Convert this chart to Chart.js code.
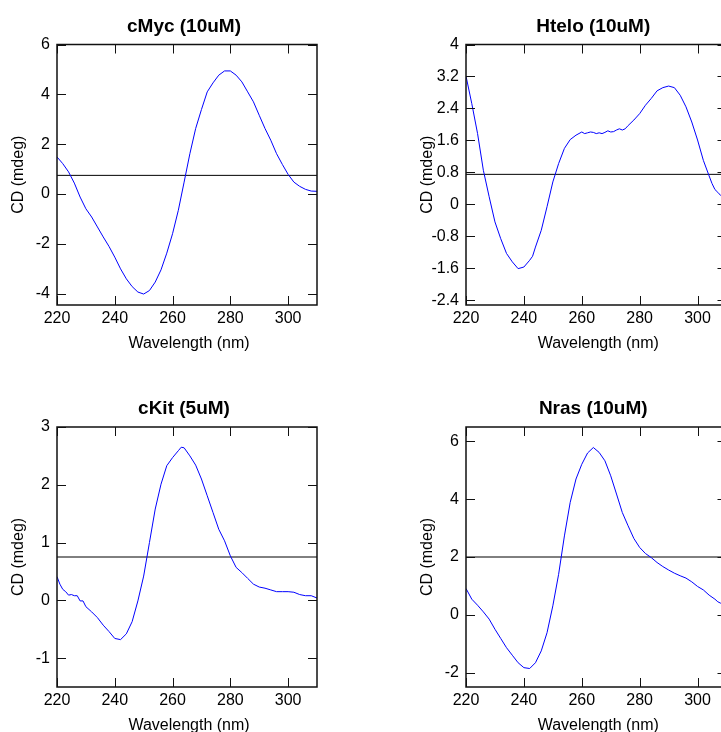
<!DOCTYPE html>
<html><head><meta charset="utf-8">
<script src="https://cdn.jsdelivr.net/npm/chart.js@4"></script>
<style>
html,body{margin:0;padding:0;background:#fff;overflow:hidden;width:721px;height:732px;}
#wrap{position:relative;width:721px;height:732px;overflow:hidden;background:#fff;}
canvas{position:absolute;}
</style></head><body><div id="wrap">
<canvas id="c1" width="360" height="366" style="left:0px;top:0px"></canvas>
<canvas id="c2" width="380" height="366" style="left:360px;top:0px"></canvas>
<canvas id="c3" width="360" height="366" style="left:0px;top:366px"></canvas>
<canvas id="c4" width="380" height="366" style="left:360px;top:366px"></canvas>
</div>
<script>
// ---- data ----
const xTicks = [220, 240, 260, 280, 300];
const xTitle = 'Wavelength (nm)';
const yTitle = 'CD (mdeg)';

const cMycTitle = 'cMyc (10uM)';
const cMycWl = [220,222,224,226,228,230,232,234,236,238,240,242,244,246,248,250,252,254,256,258,260,262,264,266,268,270,272,274,276,278,280,282,284,286,288,290,292,294,296,298,300,302,304,306,308,310];
const cMycCD = [1.49,1.22,0.89,0.44,-0.12,-0.59,-0.92,-1.32,-1.72,-2.10,-2.53,-3.00,-3.40,-3.71,-3.93,-4.01,-3.87,-3.53,-3.04,-2.37,-1.59,-0.65,0.48,1.62,2.63,3.39,4.10,4.46,4.77,4.94,4.94,4.77,4.50,4.10,3.70,3.16,2.63,2.16,1.62,1.19,0.79,0.48,0.31,0.19,0.12,0.11];
const cMycTicks = [-4, -2, 0, 2, 4, 6];
const cMycRange = [-4.45, 6];
const cMycRef = 0.75;

const htEloTitle = 'Htelo (10uM)';
const htEloWl = [220,222,224,226,228,230,232,234,236,238,240,242,243,244,246,248,250,252,254,256,258,260,261,262,263,264,265,266,267,268,269,270,271,272,273,274,275,276,278,280,282,284,286,288,290,292,294,296,298,300,302,304,305,306,307,308,310];
const htEloCD = [3.21,2.52,1.77,0.85,0.19,-0.44,-0.86,-1.23,-1.44,-1.61,-1.57,-1.40,-1.30,-1.07,-0.65,-0.06,0.56,1.02,1.40,1.62,1.73,1.81,1.77,1.79,1.81,1.80,1.77,1.79,1.77,1.80,1.84,1.81,1.82,1.86,1.89,1.86,1.89,1.97,2.11,2.27,2.48,2.65,2.84,2.92,2.96,2.92,2.73,2.44,2.06,1.61,1.10,0.71,0.52,0.37,0.30,0.22,0.10];
const htEloTicks = [-2.4, -1.6, -0.8, 0, 0.8, 1.6, 2.4, 3.2, 4];
const htEloRange = [-2.52, 4];
const htEloRef = 0.75;

const cKitTitle = 'cKit (5uM)';
const cKitWl = [220,221,222,223,224,225,226,227,228,229,230,232,234,236,238,240,242,244,246,248,250,252,254,256,258,260,262,263,264,266,268,270,272,274,276,278,280,282,284,286,288,290,292,294,296,298,300,302,304,306,308,310];
const cKitCD = [0.41,0.28,0.19,0.15,0.09,0.10,0.08,0.08,-0.01,-0.01,-0.11,-0.20,-0.30,-0.43,-0.54,-0.66,-0.68,-0.58,-0.37,-0.01,0.42,1.00,1.58,2.01,2.33,2.47,2.59,2.65,2.64,2.50,2.34,2.10,1.81,1.52,1.23,1.03,0.77,0.57,0.48,0.38,0.28,0.23,0.21,0.18,0.15,0.15,0.15,0.14,0.10,0.08,0.08,0.04];
const cKitTicks = [-1, 0, 1, 2, 3];
const cKitRange = [-1.5, 3];
const cKitRef = 0.75;

const nrasTitle = 'Nras (10uM)';
const nrasWl = [220,222,224,226,228,230,232,234,236,238,240,242,244,246,248,250,252,254,256,258,260,262,264,266,268,270,272,274,276,278,280,282,284,286,288,290,292,294,296,298,300,302,304,306,307,308,310];
const nrasCD = [0.91,0.54,0.33,0.10,-0.15,-0.50,-0.82,-1.14,-1.40,-1.66,-1.83,-1.86,-1.66,-1.25,-0.62,0.31,1.40,2.73,3.89,4.70,5.21,5.60,5.79,5.62,5.33,4.81,4.18,3.54,3.08,2.64,2.33,2.12,1.98,1.81,1.67,1.55,1.44,1.35,1.27,1.14,0.98,0.86,0.68,0.54,0.45,0.40,0.30];
const nrasTicks = [-2, 0, 2, 4, 6];
const nrasRange = [-2.5, 6.5];
const nrasRef = 2;

// ---- drawing ----
const FONT = '"Liberation Sans", Arial, Helvetica, sans-serif';

const framePlugin = {
  id: 'frame',
  afterDraw(chart, args, opts) {
    const { ctx, chartArea: a } = chart;
    const x = chart.scales.x, y = chart.scales.y;
    const L = 9;
    ctx.save();
    ctx.strokeStyle = '#111';
    ctx.lineWidth = 1;
    ctx.beginPath();
    x.ticks.forEach(t => {
      const px = Math.round(x.getPixelForValue(t.value)) + 0.5;
      ctx.moveTo(px, a.bottom); ctx.lineTo(px, a.bottom - L);
      ctx.moveTo(px, a.top); ctx.lineTo(px, a.top + L);
    });
    y.ticks.forEach(t => {
      const py = Math.round(y.getPixelForValue(t.value)) + 0.5;
      ctx.moveTo(a.left, py); ctx.lineTo(a.left + L, py);
      ctx.moveTo(a.right, py); ctx.lineTo(a.right - L, py);
    });
    ctx.stroke();
    ctx.lineWidth = 1.5;
    ctx.strokeRect(a.left, a.top, a.right - a.left, a.bottom - a.top);
    ctx.fillStyle = '#000';
    ctx.textAlign = 'center';
    ctx.textBaseline = 'alphabetic';
    ctx.font = 'bold 19px ' + FONT;
    ctx.fillText(opts.title, (a.left + a.right) / 2 - 3, a.top - 13);
    ctx.font = '16px ' + FONT;
    ctx.fillText(xTitle, (a.left + a.right) / 2 + 2, a.bottom + 43);
    ctx.translate(a.left - 38, (a.top + a.bottom) / 2);
    ctx.rotate(-Math.PI / 2);
    ctx.textBaseline = 'middle';
    ctx.fillText(yTitle, 0, 0);
    ctx.restore();
  }
};

function makeChart(id, title, wl, cd, yTicks, yRange, ref, yW, padTop, padRight, xH) {
  const pts = wl.map((w, i) => ({ x: w, y: cd[i] }));
  const refPts = [{ x: 220, y: ref }, { x: 310, y: ref }];
  new Chart(document.getElementById(id), {
    type: 'line',
    data: {
      datasets: [
        { data: pts, borderColor: '#0000ff', borderWidth: 1, pointRadius: 0, tension: 0, fill: false },
        { data: refPts, borderColor: '#000000', borderWidth: 1, pointRadius: 0, tension: 0, fill: false }
      ]
    },
    options: {
      responsive: false,
      animation: false,
      devicePixelRatio: 1,
      layout: { padding: { top: padTop, right: padRight, bottom: 0, left: 0 } },
      plugins: { legend: { display: false }, tooltip: { enabled: false }, title: { display: false }, frame: { title: title } },
      scales: {
        x: {
          type: 'linear', min: 220, max: 310,
          afterBuildTicks: s => { s.ticks = xTicks.map(v => ({ value: v })); },
          afterFit: s => { s.height = xH; },
          grid: { display: false, drawTicks: false },
          border: { display: false },
          ticks: { color: '#000', font: { family: FONT, size: 16 }, padding: 4, maxRotation: 0, autoSkip: false, callback: v => String(v) }
        },
        y: {
          type: 'linear', min: yRange[0], max: yRange[1],
          afterBuildTicks: s => { s.ticks = yTicks.map(v => ({ value: v })); },
          afterFit: s => { s.width = yW; },
          grid: { display: false, drawTicks: false },
          border: { display: false },
          ticks: { color: '#000', font: { family: FONT, size: 16 }, padding: 7, autoSkip: false, callback: v => String(v) }
        }
      }
    },
    plugins: [framePlugin]
  });
}

makeChart('c1', cMycTitle, cMycWl, cMycCD, cMycTicks, cMycRange, cMycRef, 57, 44.5, 43, 61);
makeChart('c2', htEloTitle, htEloWl, htEloCD, htEloTicks, htEloRange, htEloRef, 106, 44.5, 13.5, 61);
makeChart('c3', cKitTitle, cKitWl, cKitCD, cKitTicks, cKitRange, cKitRef, 57, 61, 43, 45);
makeChart('c4', nrasTitle, nrasWl, nrasCD, nrasTicks, nrasRange, nrasRef, 106, 61, 13.5, 45);
</script></body></html>
